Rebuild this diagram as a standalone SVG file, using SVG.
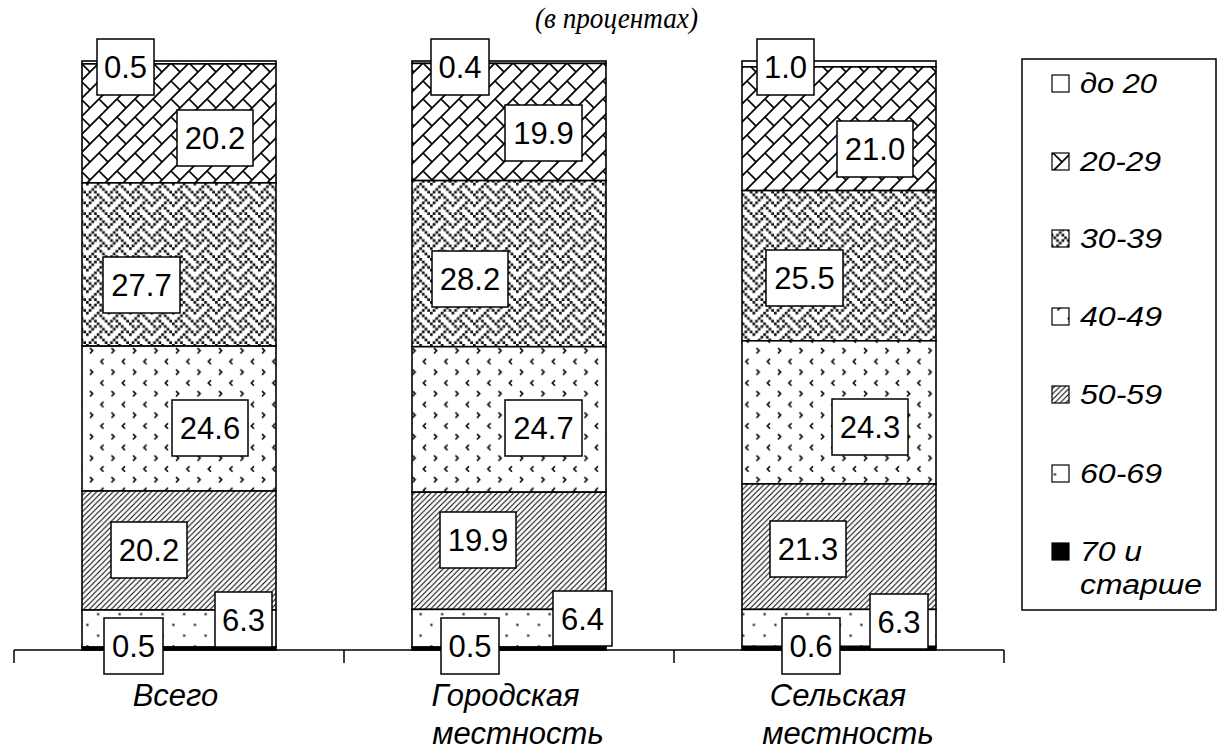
<svg xmlns="http://www.w3.org/2000/svg" width="1226" height="751" viewBox="0 0 1226 751">
<style>
.seg{stroke:#000;stroke-width:1.6}
.lbl rect{fill:#fff;stroke:#000;stroke-width:1.5}
.lbl text{font-family:"Liberation Sans",Arial,sans-serif;font-size:31px;text-anchor:middle;fill:#000}
.cat{font-family:"Liberation Sans",Arial,sans-serif;font-size:31px;font-style:italic;text-anchor:middle;fill:#000}
.leg{font-family:"Liberation Sans",Arial,sans-serif;font-size:27px;font-style:italic;fill:#000}
.sw{stroke:#000;stroke-width:1.2}
</style>
<defs>
<pattern id="pBrick" patternUnits="userSpaceOnUse" width="18" height="18">
<rect width="18" height="18" fill="#fff"/>
<path d="M18 0L0 18M-2 2L2 -2M16 20L20 16M9 9L18 18" stroke="#000" stroke-width="1.7" fill="none"/>
</pattern>
<pattern id="pWeave" patternUnits="userSpaceOnUse" width="21.5" height="21.5">
<rect width="21.5" height="21.5" fill="#fff"/>
<path fill="#111" d="M0 0h2.69v2.69h-2.69zM10.75 0h2.69v2.69h-2.69zM2.69 2.69h2.69v2.69h-2.69zM8.06 2.69h2.69v2.69h-2.69zM13.44 2.69h2.69v2.69h-2.69zM5.38 5.38h2.69v2.69h-2.69zM16.13 5.38h2.69v2.69h-2.69zM2.69 8.06h2.69v2.69h-2.69zM13.44 8.06h2.69v2.69h-2.69zM18.81 8.06h2.69v2.69h-2.69zM0 10.75h2.69v2.69h-2.69zM10.75 10.75h2.69v2.69h-2.69zM8.06 13.44h2.69v2.69h-2.69zM13.44 13.44h2.69v2.69h-2.69zM5.38 16.13h2.69v2.69h-2.69zM16.13 16.13h2.69v2.69h-2.69zM2.69 18.81h2.69v2.69h-2.69zM8.06 18.81h2.69v2.69h-2.69zM18.81 18.81h2.69v2.69h-2.69z"/>
</pattern>
<pattern id="pDivot" patternUnits="userSpaceOnUse" width="21.5" height="21.5">
<rect width="21.5" height="21.5" fill="#fff"/>
<path d="M4 4L6.7 6.7L4 9.4M17.5 14.8L14.8 17.5L17.5 20.2" stroke="#000" stroke-width="1.5" fill="none"/>
</pattern>
<pattern id="pHatch" patternUnits="userSpaceOnUse" width="5.5" height="5.5">
<rect width="5.5" height="5.5" fill="#fff"/>
<path d="M0 5.5L5.5 0M-1 1L1 -1M4.5 6.5L6.5 4.5" stroke="#000" stroke-width="1.05" fill="none"/>
</pattern>
<pattern id="pDots" patternUnits="userSpaceOnUse" width="21.5" height="21.5">
<rect width="21.5" height="21.5" fill="#fff"/>
<rect x="0.3" y="0.3" width="2.2" height="2.2" fill="#222"/>
<rect x="11.05" y="11.05" width="2.2" height="2.2" fill="#222"/>
</pattern>
</defs>
<rect width="1226" height="751" fill="#fff"/>

<text x="535" y="28" font-family="'Liberation Serif','Times New Roman',serif" font-size="29" font-style="italic" textLength="163" lengthAdjust="spacingAndGlyphs">(в процентах)</text>

<g id="bar-vsego">
<rect class="seg" x="82" y="61" width="194" height="2.9" fill="#fff"/>
<rect class="seg" x="82" y="63.9" width="194" height="119" fill="url(#pBrick)"/>
<rect class="seg" x="82" y="182.9" width="194" height="163.2" fill="url(#pWeave)"/>
<rect class="seg" x="82" y="346.1" width="194" height="144.9" fill="url(#pDivot)"/>
<rect class="seg" x="82" y="491" width="194" height="119" fill="url(#pHatch)"/>
<rect class="seg" x="82" y="610" width="194" height="37.1" fill="url(#pDots)"/>
<rect class="seg" x="82" y="647.1" width="194" height="2.9" fill="#000"/>
</g>
<g id="bar-gorod">
<rect class="seg" x="412" y="61" width="194" height="2.4" fill="#fff"/>
<rect class="seg" x="412" y="63.4" width="194" height="117.2" fill="url(#pBrick)"/>
<rect class="seg" x="412" y="180.6" width="194" height="166.1" fill="url(#pWeave)"/>
<rect class="seg" x="412" y="346.7" width="194" height="145.5" fill="url(#pDivot)"/>
<rect class="seg" x="412" y="492.2" width="194" height="117.2" fill="url(#pHatch)"/>
<rect class="seg" x="412" y="609.4" width="194" height="37.7" fill="url(#pDots)"/>
<rect class="seg" x="412" y="647.1" width="194" height="2.9" fill="#000"/>
</g>
<g id="bar-selo">
<rect class="seg" x="742" y="61" width="194" height="5.9" fill="#fff"/>
<rect class="seg" x="742" y="66.9" width="194" height="123.7" fill="url(#pBrick)"/>
<rect class="seg" x="742" y="190.6" width="194" height="150.2" fill="url(#pWeave)"/>
<rect class="seg" x="742" y="340.8" width="194" height="143.1" fill="url(#pDivot)"/>
<rect class="seg" x="742" y="483.9" width="194" height="125.5" fill="url(#pHatch)"/>
<rect class="seg" x="742" y="609.4" width="194" height="37.1" fill="url(#pDots)"/>
<rect class="seg" x="742" y="646.5" width="194" height="3.5" fill="#000"/>
</g>

<g id="axis" stroke="#000" stroke-width="1.5" fill="none">
<path d="M14 650H1004M14 650V663M344 650V663M674 650V663M1004 650V663"/>
</g>

<g id="labels-vsego" class="lbl">
<rect x="97" y="39" width="57" height="56"/><text x="125.5" y="78">0.5</text>
<rect x="177" y="110" width="76" height="56"/><text x="215" y="149">20.2</text>
<rect x="103" y="257" width="77" height="56"/><text x="141.5" y="296">27.7</text>
<rect x="172" y="400" width="76" height="56"/><text x="210" y="439">24.6</text>
<rect x="111" y="522" width="76" height="56"/><text x="149" y="561">20.2</text>
<rect x="215" y="592" width="57" height="55"/><text x="243.5" y="631">6.3</text>
<rect x="104" y="618" width="59" height="56"/><text x="133.5" y="657">0.5</text>
</g>
<g id="labels-gorod" class="lbl">
<rect x="431" y="39" width="58" height="56"/><text x="460" y="78">0.4</text>
<rect x="505" y="105" width="77" height="56"/><text x="543.5" y="144">19.9</text>
<rect x="432" y="251" width="76" height="56"/><text x="470" y="290">28.2</text>
<rect x="505" y="400" width="77" height="56"/><text x="543.5" y="439">24.7</text>
<rect x="440" y="512" width="76" height="56"/><text x="478" y="551">19.9</text>
<rect x="553" y="591" width="59" height="55"/><text x="582.5" y="630">6.4</text>
<rect x="441" y="618" width="58" height="56"/><text x="470" y="657">0.5</text>
</g>
<g id="labels-selo" class="lbl">
<rect x="757" y="39" width="57" height="56"/><text x="785.5" y="78">1.0</text>
<rect x="837" y="121" width="76" height="56"/><text x="875" y="160">21.0</text>
<rect x="766" y="250" width="77" height="56"/><text x="804.5" y="289">25.5</text>
<rect x="832" y="399" width="76" height="56"/><text x="870" y="438">24.3</text>
<rect x="770" y="521" width="76" height="56"/><text x="808" y="560">21.3</text>
<rect x="870" y="594" width="58" height="55"/><text x="899" y="633">6.3</text>
<rect x="782" y="618" width="58" height="56"/><text x="811" y="657">0.6</text>
</g>

<g id="categories">
<text class="cat" x="175.5" y="706">Всего</text>
<text class="cat" x="505.5" y="706">Городская</text>
<text class="cat" x="518" y="744">местность</text>
<text class="cat" x="838" y="706">Сельская</text>
<text class="cat" x="848" y="744">местность</text>
</g>

<g id="legend">
<rect x="1022" y="59" width="194" height="551" fill="#fff" stroke="#000" stroke-width="1.5"/>
<rect class="sw" x="1052" y="75" width="17" height="17" fill="#fff"/>
<text class="leg" x="1080" y="93" textLength="77" lengthAdjust="spacingAndGlyphs">до 20</text>
<rect class="sw" x="1052" y="153" width="17" height="17" fill="url(#pBrick)"/>
<text class="leg" x="1080" y="171" textLength="81" lengthAdjust="spacingAndGlyphs">20-29</text>
<rect class="sw" x="1052" y="230" width="17" height="17" fill="url(#pWeave)"/>
<text class="leg" x="1080" y="248" textLength="82" lengthAdjust="spacingAndGlyphs">30-39</text>
<rect class="sw" x="1052" y="308" width="17" height="17" fill="url(#pDivot)"/>
<text class="leg" x="1080" y="326" textLength="82" lengthAdjust="spacingAndGlyphs">40-49</text>
<rect class="sw" x="1052" y="386" width="17" height="17" fill="url(#pHatch)"/>
<text class="leg" x="1080" y="404" textLength="82" lengthAdjust="spacingAndGlyphs">50-59</text>
<rect class="sw" x="1052" y="465" width="17" height="17" fill="url(#pDots)"/>
<text class="leg" x="1080" y="483" textLength="82" lengthAdjust="spacingAndGlyphs">60-69</text>
<rect class="sw" x="1052" y="543" width="17" height="17" fill="#000"/>
<text class="leg" x="1080" y="561" textLength="62" lengthAdjust="spacingAndGlyphs">70 и</text>
<text class="leg" x="1080" y="594" textLength="122" lengthAdjust="spacingAndGlyphs">старше</text>
</g>
</svg>
